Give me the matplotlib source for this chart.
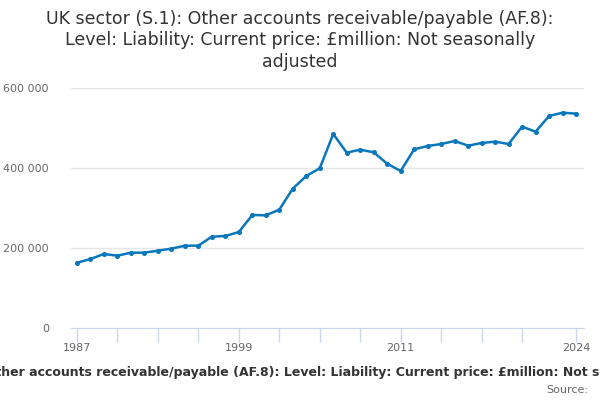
import matplotlib
matplotlib.use("Agg")
import matplotlib.pyplot as plt
from matplotlib.ticker import FuncFormatter

# Data (£ million)
years = list(range(1987, 2025))
values = [
    163000, 172500, 185000, 180800, 188300, 188300, 193300, 198300, 205800,
    205800, 228300, 230000, 240000, 282500, 281700, 295800, 348300, 380000,
    399200, 485000, 438300, 445800, 439200, 410800, 392500, 446700, 455000,
    460000, 467500, 455800, 462500, 465800, 460000, 503300, 490800, 530000,
    538300, 535800,
]
tick_years = [1987, 1990, 1993, 1996, 1999, 2002, 2005, 2008, 2011, 2014,
              2017, 2020, 2024]
label_years = [1987, 1999, 2011, 2024]
y_ticks = [0, 200000, 400000, 600000]

title = ("UK sector (S.1): Other accounts receivable/payable (AF.8):\n"
         "Level: Liability: Current price: £million: Not seasonally\n"
         "adjusted")
caption = ("UK sector (S.1): Other accounts receivable/payable (AF.8): Level: "
           "Liability: Current price: £million: Not seasonally adjusted")

fig = plt.figure(figsize=(6, 4), dpi=100)
ax = fig.add_axes([71 / 600, 0.18, 513 / 600, 0.60])

ax.plot(years, values, color="#0a77bd", linewidth=1.8, marker="o",
        markersize=2.6, zorder=3)

ax.set_xlim(1986.56, 2024.59)
ax.set_ylim(0, 600000)

# gridlines
ax.set_yticks(y_ticks)
ax.yaxis.set_major_formatter(
    FuncFormatter(lambda v, p: f"{int(v):,}".replace(",", " ")))
ax.grid(axis="y", color="#e6e6e6", linewidth=1)
ax.set_axisbelow(True)
ax.tick_params(axis="y", length=0, labelsize=8, labelcolor="#666666", pad=16)

# x ticks every 3 years, labels only on a few
ax.set_xticks(tick_years)
ax.set_xticklabels([str(y) if y in label_years else "" for y in tick_years])
ax.tick_params(axis="x", length=10, width=1, color="#ccd6eb", labelsize=8,
               labelcolor="#666666", pad=1)

for side in ["top", "right", "left"]:
    ax.spines[side].set_visible(False)
ax.spines["bottom"].set_color("#ccd6eb")

fig.text(0.5, 0.974, title, ha="center", va="top", fontsize=12.5,
         color="#333333", linespacing=1.22)
fig.text(0.5, 0.068, caption, ha="center", va="center", fontsize=9,
         fontweight="bold", color="#333333")
fig.text(0.98, 0.025, "Source:", ha="right", va="center", fontsize=8,
         color="#666666")

fig.savefig("out.png", dpi=100)
